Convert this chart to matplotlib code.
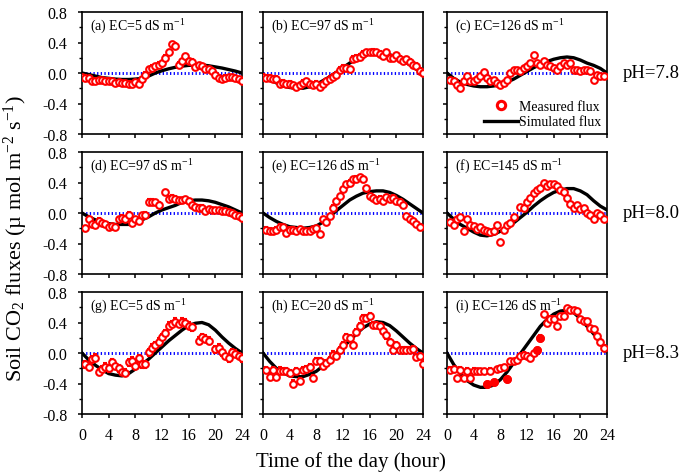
import numpy as np
import matplotlib
matplotlib.use('Agg')
import matplotlib.pyplot as plt
from matplotlib.lines import Line2D
from matplotlib.ticker import MultipleLocator

plt.rcParams['font.family'] = ['Liberation Serif', 'DejaVu Serif']
plt.rcParams['mathtext.fontset'] = 'custom'
plt.rcParams['mathtext.rm'] = 'Liberation Serif'
plt.rcParams['mathtext.it'] = 'Liberation Serif:italic'
plt.rcParams['axes.unicode_minus'] = False

nan = np.nan

# ---------------- data ----------------
t_meas = np.arange(0, 24.01, 0.5)       # measurement times (h)
t_sim = np.arange(0, 25, 1)             # simulation times (h)

panel_tags = ['(a)', '(b)', '(c)', '(d)', '(e)', '(f)', '(g)', '(h)', '(i)']
ec_values = [5, 97, 126, 97, 126, 145, 5, 20, 126]
ph_labels = ['pH=7.8', 'pH=8.0', 'pH=8.3']
xtick_vals = [0, 4, 8, 12, 16, 20, 24]
ytick_vals = [-0.8, -0.4, 0.0, 0.4, 0.8]
ytick_labels = ['-0.8', '-0.4', '0.0', '0.4', '0.8']
zero_ref = 0.0

meas_a = [-0.05, -0.06, -0.07, -0.10, -0.10, -0.09, -0.09, -0.10, -0.10, -0.11,
          -0.13, -0.12, -0.13, -0.13, -0.14, -0.15, -0.12, -0.14, -0.08, -0.02,
          0.05, 0.07, 0.09, 0.11, 0.13, 0.20, 0.27, 0.38, 0.36, 0.11,
          0.16, 0.22, 0.16, 0.15, 0.08, 0.10, 0.09, 0.05, 0.05, 0.03,
          -0.02, -0.06, -0.08, -0.06, -0.05, -0.05, -0.07, -0.08, -0.11]
meas_b = [-0.05, -0.06, -0.06, -0.08, -0.08, -0.14, -0.13, -0.15, -0.14, -0.16,
          -0.18, -0.16, -0.13, -0.11, -0.15, -0.16, -0.14, -0.18, -0.15, -0.11,
          -0.08, -0.05, -0.02, 0.04, 0.07, 0.06, 0.05, 0.19, 0.20, 0.21,
          0.25, 0.27, 0.27, 0.28, 0.27, 0.25, 0.22, 0.27, 0.20, 0.20,
          0.23, 0.19, 0.16, 0.18, 0.15, 0.11, 0.09, 0.03, 0.00]
meas_c = [nan, -0.09, -0.11, -0.16, -0.20, -0.10, -0.04, -0.11, -0.10, -0.08,
          -0.04, 0.01, -0.07, -0.11, -0.09, -0.13, -0.16, -0.13, -0.09, 0.00,
          0.04, 0.04, 0.02, 0.07, 0.09, 0.13, 0.24, 0.13, 0.10, 0.16,
          0.11, 0.09, 0.07, 0.04, 0.09, 0.13, 0.11, 0.13, 0.04, 0.04,
          0.02, 0.04, 0.04, 0.03, -0.09, -0.02, -0.04, -0.04, nan]
meas_d = [nan, -0.20, -0.08, -0.15, -0.16, -0.10, -0.13, -0.15, -0.19, -0.17,
          -0.19, -0.08, -0.06, -0.08, -0.02, -0.13, -0.08, -0.11, -0.03, -0.02,
          0.15, 0.15, 0.14, 0.11, nan, 0.27, 0.19, 0.20, 0.19, 0.17,
          0.17, 0.18, 0.16, 0.11, 0.08, 0.07, 0.07, 0.03, 0.05, 0.04,
          0.04, 0.04, 0.03, 0.03, 0.01, 0.00, -0.02, -0.04, -0.07]
meas_e = [nan, -0.22, -0.23, -0.24, -0.22, -0.18, -0.19, -0.26, -0.22, -0.22,
          -0.23, -0.21, -0.23, -0.24, -0.23, -0.21, -0.20, -0.28, -0.08, -0.12,
          -0.04, 0.07, 0.16, 0.22, 0.31, 0.38, 0.40, 0.44, 0.45, 0.47,
          0.44, 0.33, 0.22, 0.20, 0.17, 0.19, 0.16, 0.21, 0.18, 0.20,
          0.16, 0.15, 0.11, -0.04, -0.08, -0.11, -0.15, -0.18, nan]
meas_f = [nan, -0.12, -0.16, -0.08, -0.05, -0.23, -0.08, -0.16, -0.17, -0.21,
          -0.19, -0.22, -0.24, -0.25, -0.23, -0.16, -0.38, -0.22, -0.16, -0.13,
          -0.05, nan, 0.08, 0.07, 0.15, 0.20, 0.26, 0.30, 0.33, 0.40,
          0.36, 0.38, 0.38, 0.36, 0.30, 0.27, 0.20, 0.12, 0.07, 0.10,
          0.05, 0.07, 0.00, -0.03, -0.08, 0.00, -0.02, -0.08, nan]
meas_g = [nan, -0.15, -0.18, -0.08, -0.06, -0.25, -0.21, -0.18, -0.20, -0.12,
          -0.17, -0.20, -0.25, -0.26, -0.12, -0.10, -0.17, -0.07, -0.15, -0.15,
          0.01, 0.07, 0.10, 0.15, 0.21, 0.26, 0.36, 0.38, 0.41, 0.38,
          0.41, 0.40, 0.36, 0.34, nan, 0.16, 0.21, 0.19, 0.16, nan,
          0.05, 0.07, 0.01, -0.04, -0.07, 0.01, -0.01, -0.04, -0.07]
meas_h = [nan, -0.22, -0.32, -0.22, -0.32, -0.23, -0.24, -0.24, -0.26, -0.40,
          -0.24, -0.37, -0.22, -0.21, -0.19, -0.33, -0.11, -0.11, -0.17, -0.13,
          -0.09, -0.02, -0.04, 0.04, 0.11, 0.21, 0.20, 0.11, 0.27, 0.35,
          0.46, 0.46, 0.48, 0.37, 0.37, 0.35, 0.29, 0.23, 0.14, 0.04,
          0.11, 0.04, 0.04, 0.04, 0.04, 0.05, -0.05, -0.04, -0.15]
meas_i = [nan, -0.22, -0.21, -0.33, -0.22, -0.33, -0.23, -0.33, -0.23, -0.24,
          -0.24, -0.24, -0.41, -0.23, -0.38, -0.21, -0.20, -0.19, -0.34, -0.11,
          -0.11, -0.09, -0.04, -0.02, -0.04, -0.07, 0.00, 0.04, 0.20, 0.51,
          0.40, 0.45, 0.45, 0.35, 0.48, 0.49, 0.59, 0.57, 0.56, 0.55,
          0.44, 0.42, 0.42, 0.33, 0.31, 0.22, 0.15, 0.07, nan]
filled_i = [12, 14, 18, 27, 28]   # indices of solid markers in panel (i)

err_vals = [0.03, 0.035, 0.02, 0.03, 0.03, 0.015, 0.045, 0.04, 0.03]

sim_a = [0.00, -0.02, -0.04, -0.06, -0.07, -0.08, -0.085, -0.085, -0.08, -0.07, -0.04, 0.00,
         0.03, 0.055, 0.075, 0.09, 0.10, 0.105, 0.105, 0.095, 0.08, 0.065, 0.045, 0.025, 0.00]
sim_b = [-0.02, -0.08, -0.13, -0.17, -0.19, -0.20, -0.20, -0.18, -0.15, -0.10, -0.05, 0.01,
         0.07, 0.13, 0.18, 0.22, 0.25, 0.27, 0.26, 0.24, 0.21, 0.16, 0.11, 0.05, 0.00]
sim_c = [0.00, -0.07, -0.12, -0.15, -0.17, -0.18, -0.18, -0.17, -0.15, -0.12, -0.08, -0.03,
         0.02, 0.07, 0.11, 0.15, 0.18, 0.20, 0.21, 0.20, 0.17, 0.13, 0.10, 0.06, 0.00]
sim_d = [0.00, -0.05, -0.09, -0.12, -0.14, -0.15, -0.15, -0.15, -0.13, -0.09, -0.05, 0.00,
         0.04, 0.07, 0.10, 0.14, 0.16, 0.17, 0.17, 0.16, 0.14, 0.11, 0.08, 0.04, 0.00]
sim_e = [0.00, -0.06, -0.11, -0.15, -0.18, -0.19, -0.20, -0.19, -0.17, -0.12, -0.05, 0.03,
         0.10, 0.17, 0.22, 0.26, 0.28, 0.29, 0.29, 0.27, 0.23, 0.18, 0.12, 0.06, 0.00]
sim_f = [0.00, -0.08, -0.15, -0.20, -0.25, -0.29, -0.30, -0.28, -0.24, -0.20, -0.13, -0.06,
         0.01, 0.09, 0.16, 0.22, 0.27, 0.30, 0.32, 0.32, 0.29, 0.24, 0.16, 0.09, 0.04]
sim_g = [0.00, -0.09, -0.16, -0.22, -0.27, -0.29, -0.30, -0.27, -0.21, -0.15, -0.08, 0.00,
         0.08, 0.16, 0.23, 0.30, 0.36, 0.39, 0.40, 0.37, 0.30, 0.21, 0.13, 0.06, 0.00]
sim_h = [0.00, -0.11, -0.20, -0.26, -0.30, -0.31, -0.31, -0.28, -0.24, -0.17, -0.09, 0.00,
         0.08, 0.16, 0.25, 0.33, 0.38, 0.41, 0.40, 0.36, 0.29, 0.21, 0.13, 0.06, 0.00]
sim_i = [0.00, -0.15, -0.27, -0.36, -0.42, -0.45, -0.45, -0.42, -0.35, -0.25, -0.13, -0.01,
         0.11, 0.23, 0.35, 0.44, 0.51, 0.55, 0.56, 0.53, 0.45, 0.35, 0.25, 0.14, 0.02]

meas_all = [meas_a, meas_b, meas_c, meas_d, meas_e, meas_f, meas_g, meas_h, meas_i]
sim_all = [sim_a, sim_b, sim_c, sim_d, sim_e, sim_f, sim_g, sim_h, sim_i]

# ---------------- figure ----------------
W, H = 685, 477
fig = plt.figure(figsize=(W / 100, H / 100), dpi=100)

lefts = [82, 263, 447]
tops = [13, 153, 293]
pw, ph = 160, 122

RED = '#ff0000'
for k in range(9):
    r, c = divmod(k, 3)
    ax = fig.add_axes([lefts[c] / W, 1 - (tops[r] + ph) / H, pw / W, ph / H])
    ax.set_xlim(0, 24)
    ax.set_ylim(-0.8, 0.8)

    ax.plot([0, 24], [zero_ref, zero_ref], color='#0000ff', lw=2.1,
            dashes=(0.45, 0.8), dash_capstyle='butt', zorder=2)
    ax.plot(t_sim, sim_all[k], color='black', lw=2.4, zorder=3,
            solid_joinstyle='round')

    y = np.array(meas_all[k], dtype=float)
    ax.errorbar(t_meas, y, yerr=err_vals[k], fmt='o', ms=4.8, mfc='white',
                mec=RED, mew=1.5, ecolor=RED, elinewidth=0.9, capsize=1.2,
                capthick=0.9, zorder=4)
    if k == 8:
        ax.plot(t_meas[filled_i], y[filled_i], 'o', ms=4.8, mfc=RED, mec=RED,
                mew=1.5, zorder=5)

    ax.set_xticks(xtick_vals)
    ax.set_yticks(ytick_vals)
    ax.yaxis.set_minor_locator(MultipleLocator(0.2))
    ax.tick_params(which='major', direction='out', length=3.2, width=1.1,
                   labelsize=11.5)
    ax.tick_params(axis='y', which='major', pad=7.5)
    ax.tick_params(axis='x', which='major', pad=6)
    ax.tick_params(which='minor', direction='out', length=2.2, width=1.0)
    if c == 0:
        ax.set_yticklabels(ytick_labels)
    else:
        ax.set_yticklabels([])
    if r == 2:
        ax.set_xticklabels([str(v) for v in xtick_vals])
    else:
        ax.set_xticklabels([])
    for s in ax.spines.values():
        s.set_linewidth(1.2)

    ax.text(0.05, 0.885, panel_tags[k] + ' EC=%d dS m$^{-1}$' % ec_values[k],
            transform=ax.transAxes, fontsize=10, ha='left', va='center')

    if c == 2:
        ax.text(1.1, zero_ref, ph_labels[r], transform=ax.get_yaxis_transform(),
                fontsize=13.5, ha='left', va='center')

    if k == 2:
        h1 = Line2D([], [], marker='o', ls='none', ms=6, mfc='white', mec=RED, mew=2.2)
        h2 = Line2D([], [], color='black', lw=2.4)
        ax.legend([h1, h2], ['Measured flux', 'Simulated flux'], loc='lower right',
                  frameon=False, fontsize=10, handlelength=2.4, handletextpad=0.1,
                  borderaxespad=0.2, labelspacing=0.2, borderpad=0.2)

fig.text(16 / W, 1 - 239 / H,
         'Soil CO$_{2}$ fluxes (\u00b5 mol m$^{-2}$ s$^{-1}$)',
         rotation=90, ha='center', va='center', fontsize=16)
fig.text(351 / W, 1 - 462 / H, 'Time of the day (hour)',
         ha='center', va='center', fontsize=15)

fig.savefig('out.png', dpi=100)
